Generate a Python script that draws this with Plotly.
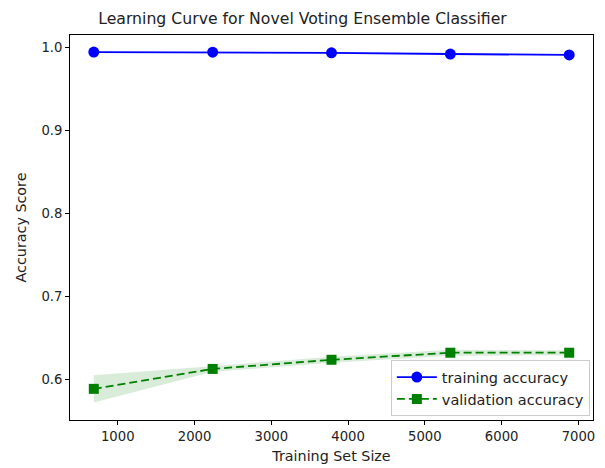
import plotly.graph_objects as go

train_sizes = [688, 2236, 3784, 5332, 6880]
train_mean = [0.9940, 0.9938, 0.9930, 0.9916, 0.9905]
train_std = [0.0008, 0.0008, 0.0008, 0.0008, 0.0008]
val_mean = [0.5885, 0.6125, 0.6235, 0.6320, 0.6320]
val_std = [0.0165, 0.0035, 0.0035, 0.0035, 0.0030]

fig = go.Figure()

def band(x, m, s, color):
    upper = [a + b for a, b in zip(m, s)]
    lower = [a - b for a, b in zip(m, s)]
    fig.add_trace(go.Scatter(x=x + x[::-1], y=upper + lower[::-1], fill="toself",
                             fillcolor=color, line=dict(width=0), hoverinfo="skip",
                             showlegend=False, mode="lines"))

band(train_sizes, train_mean, train_std, "rgba(0,0,255,0.15)")
band(train_sizes, val_mean, val_std, "rgba(0,128,0,0.15)")

fig.add_trace(go.Scatter(x=train_sizes, y=train_mean, mode="lines+markers",
                         name="training accuracy",
                         line=dict(color="blue", width=1.8),
                         marker=dict(symbol="circle", size=11, color="blue")))
fig.add_trace(go.Scatter(x=train_sizes, y=val_mean, mode="lines+markers",
                         name="validation accuracy",
                         line=dict(color="green", width=1.8, dash="8px,4px"),
                         marker=dict(symbol="square", size=10, color="green")))

axis_common = dict(showline=True, linecolor="black", linewidth=1, mirror=True,
                   ticks="outside", ticklen=4, tickcolor="black", showgrid=False,
                   zeroline=False, tickfont=dict(size=13.2, color="#222"))

fig.update_layout(
    width=605, height=468,
    margin=dict(l=70, r=12, t=35, b=48),
    paper_bgcolor="white", plot_bgcolor="white",
    font=dict(family="DejaVu Sans", color="#222"),
    title=dict(text="Learning Curve for Novel Voting Ensemble Classifier",
               x=0.5, xanchor="center", y=0.96, yanchor="middle",
               font=dict(size=15.7, color="#222")),
    xaxis=dict(range=[378, 7190], tickvals=[1000, 2000, 3000, 4000, 5000, 6000, 7000],
               title=dict(text="Training Set Size", font=dict(size=14.3), standoff=8),
               automargin=False, **axis_common),
    yaxis=dict(range=[0.551, 1.0145], tickvals=[0.6, 0.7, 0.8, 0.9, 1.0],
               ticktext=["0.6", "0.7", "0.8", "0.9", "1.0"],
               title=dict(text="Accuracy Score", font=dict(size=14.3), standoff=11),
               automargin=False, **axis_common),
    legend=dict(x=0.994, y=0.01, xanchor="right", yanchor="bottom",
                bgcolor="rgba(255,255,255,0.85)", bordercolor="#ccc", borderwidth=1,
                font=dict(size=14.5, color="#222"), tracegroupgap=0, itemwidth=40),
)

fig.write_html("out.html", config={"displayModeBar": False},
               post_script="document.body.style.margin='0';document.body.style.overflow='hidden';")
